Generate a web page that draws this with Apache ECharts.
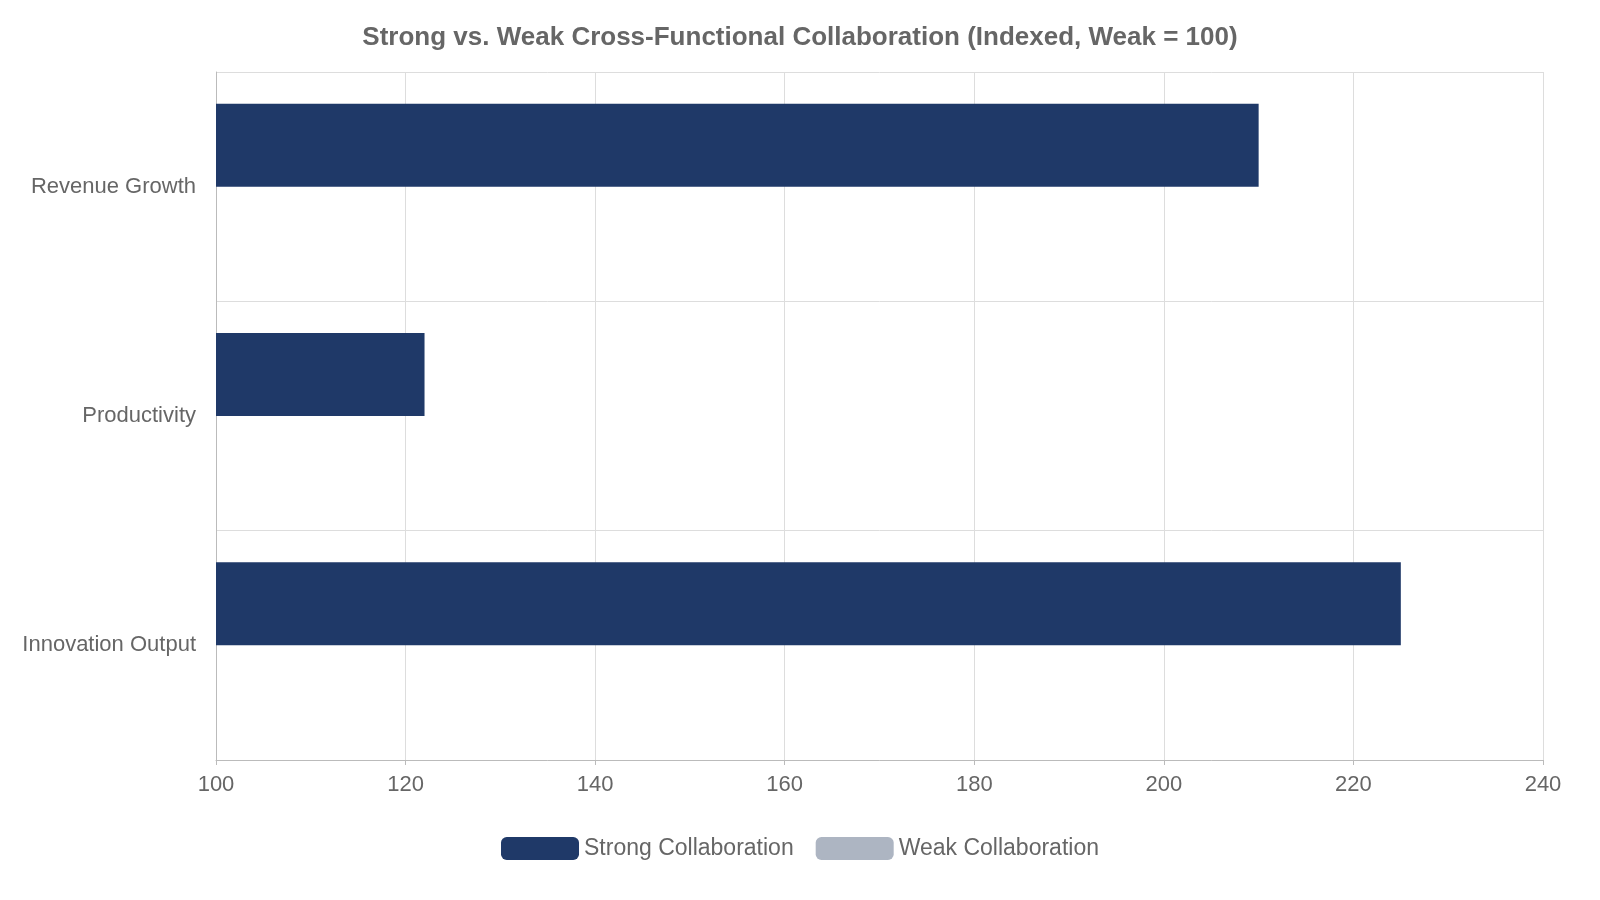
<!DOCTYPE html>
<html><head><meta charset="utf-8">
<script src="https://cdn.jsdelivr.net/npm/echarts@6/dist/echarts.min.js"></script>
<style>html,body{margin:0;padding:0;background:#fff}#c{width:1600px;height:900px}</style>
</head><body><div id="c"></div>
<script>
const categories = ['Revenue Growth', 'Productivity', 'Innovation Output'];
const strongValues = [210, 122, 225];
const weakValues = [100, 100, 100];
const seriesNames = ['Strong Collaboration', 'Weak Collaboration'];

const chart = echarts.init(document.getElementById('c'));
chart.setOption({
  backgroundColor: '#fff',
  textStyle: { fontFamily: 'Liberation Sans, Arial, sans-serif' },
  title: { text: 'Strong vs. Weak Cross-Functional Collaboration (Indexed, Weak = 100)', left: 'center', top: 20,
    textStyle: { fontSize: 26, fontWeight: 'bold', color: '#666' } },
  legend: { bottom: 35, itemWidth: 78, itemHeight: 23, itemGap: 22, textStyle: { fontSize: 23, color: '#666' } },
  grid: { left: 216, right: 57, top: 72, bottom: 140 },
  xAxis: { type: 'value', min: 100, max: 240, interval: 20,
    axisLine: { show: true, lineStyle: { color: '#bbb' } },
    axisTick: { show: true, lineStyle: { color: '#bbb' } },
    axisLabel: { fontSize: 22, color: '#666', margin: 14 },
    splitLine: { lineStyle: { color: '#ddd' } } },
  yAxis: { type: 'category', data: categories, inverse: true,
    axisLine: { lineStyle: { color: '#bbb' } },
    axisTick: { length: 18, lineStyle: { color: '#ccc' } },
    axisLabel: { fontSize: 22, color: '#666', margin: 20 },
    splitLine: { show: true, lineStyle: { color: '#ddd' } } },
  series: [
    { name: seriesNames[0], type: 'bar', data: strongValues, barWidth: 83, barGap: '0%', barCategoryGap: '28%', itemStyle: { color: '#1f3968' } },
    { name: seriesNames[1], type: 'bar', data: weakValues, barWidth: 83, itemStyle: { color: '#adb5c2' } }
  ]
});
</script></body></html>
